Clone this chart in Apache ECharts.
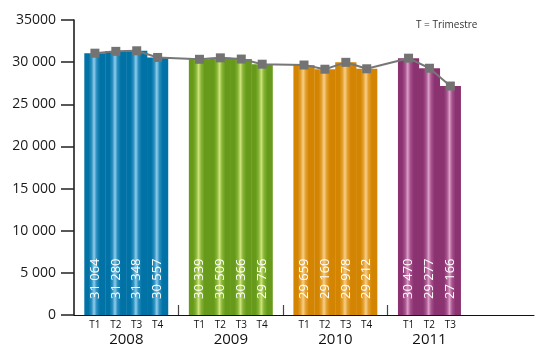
<!DOCTYPE html>
<html>
<head>
<meta charset="utf-8">
<script src="https://cdn.jsdelivr.net/npm/echarts@6/dist/echarts.min.js"></script>
<style>html,body{margin:0;padding:0;background:#fff}#c{width:540px;height:347px}</style>
</head>
<body>
<div id="c"></div>
<script>
var years = ['2008', '2009', '2010', '2011'];
var quarterNames = ['T1', 'T2', 'T3', 'T4'];
var v2008 = [31064, 31280, 31348, 30557];
var v2009 = [30339, 30509, 30366, 29756];
var v2010 = [29659, 29160, 29978, 29212];
var v2011 = [30470, 29277, 27166];
var yTickLabels = ['0', '5 000', '10 000', '15 000', '20 000', '25 000', '30 000', '35000'];
var legendNote = 'T = Trimestre';

var yearValues = [v2008, v2009, v2010, v2011];
var palette = [
  ['#0072a5', '#2a8fc0', '#8fcdea'],
  ['#679a1b', '#86b535', '#cfe37c'],
  ['#d38400', '#e3a030', '#f7cf88'],
  ['#8b3371', '#a6538e', '#dd9ec8']
];
function grad(c) {
  return new echarts.graphic.LinearGradient(0, 0, 1, 0, [
    {offset: 0, color: c[0]}, {offset: 0.2, color: c[0]},
    {offset: 0.34, color: c[1]}, {offset: 0.46, color: c[2]},
    {offset: 0.58, color: c[1]}, {offset: 0.74, color: c[0]},
    {offset: 1, color: c[0]}
  ]);
}

// Build category slots: leading blank, each year's quarters followed by a gap slot, trailing blanks
var cats = [''], barData = [null], lineData = [null], yearCats = [''], yearShift = {};
var gapIdx = [];
yearValues.forEach(function (vals, yi) {
  var start = cats.length;
  vals.forEach(function (v, qi) {
    cats.push(quarterNames[qi]);
    barData.push({value: v, itemStyle: {color: grad(palette[yi])}});
    lineData.push(v);
    yearCats.push('');
  });
  var center = start + (vals.length - 1) / 2;
  var ci = Math.floor(center);
  yearCats[ci] = years[yi];
  yearShift[ci] = (center !== ci);
  if (yi < yearValues.length - 1) {
    gapIdx.push(cats.length);
    cats.push(''); barData.push(null); lineData.push(null); yearCats.push('');
  }
});
while (cats.length < 23) { cats.push(''); barData.push(null); lineData.push(null); yearCats.push(''); }

function fmt(v) { return String(v).replace(/\B(?=(\d{3})+(?!\d))/g, ' '); }

var chart = echarts.init(document.getElementById('c'));
chart.setOption({
  animation: false,
  textStyle: {fontFamily: 'Open Sans'},
  title: {
    text: legendNote, left: 411, top: 15,
    textStyle: {fontSize: 10, fontWeight: 'normal', color: '#333', fontFamily: 'Open Sans'}
  },
  grid: {left: 74, right: 6, top: 20, bottom: 31, containLabel: false},
  xAxis: [{
    type: 'category', data: cats, boundaryGap: false,
    axisLine: {lineStyle: {color: '#111', width: 1}},
    axisTick: {show: true, inside: true, length: 10, alignWithLabel: true,
      interval: function (i) { return gapIdx.indexOf(i) >= 0; },
      lineStyle: {color: '#444', width: 1.2}},
    axisLabel: {interval: 0, margin: 5, fontSize: 10, color: '#111', fontFamily: 'Open Sans'},
    splitLine: {show: false}
  }, {
    type: 'category', data: yearCats, boundaryGap: false, position: 'bottom',
    axisLine: {show: false}, axisTick: {show: false}, splitLine: {show: false},
    axisLabel: {interval: 0, margin: 17, fontSize: 15, color: '#111', fontFamily: 'Open Sans',
      formatter: function (v, i) { return v ? (yearShift[i] ? '{s|' + v + '}' : '{n|' + v + '}') : ''; },
      rich: {s: {fontSize: 15, color: '#111', padding: [0, 0, 0, 21]}, n: {fontSize: 15, color: '#111'}}}
  }],
  yAxis: {
    type: 'value', min: 0, max: 35000, interval: 5000,
    axisLine: {show: true, lineStyle: {color: '#111', width: 1.5}},
    axisTick: {show: true, length: 13, lineStyle: {color: '#222', width: 1.5}},
    axisLabel: {margin: 18, fontSize: 14, color: '#1a1a1a', fontFamily: 'Open Sans',
      formatter: function (v) { return yTickLabels[Math.round(v / 5000)]; }},
    splitLine: {show: false}
  },
  series: [{
    type: 'bar', xAxisIndex: 0, data: barData, barWidth: 21.2,
    label: {show: true, position: 'insideBottom', rotate: 90, align: 'left', verticalAlign: 'middle',
      distance: 16, color: '#fff', fontSize: 13, fontFamily: 'Open Sans',
      formatter: function (p) { return fmt(p.value); }}
  }, {
    type: 'line', xAxisIndex: 0, data: lineData, connectNulls: true, z: 5,
    symbol: 'rect', symbolSize: 9,
    lineStyle: {color: '#777', width: 2},
    itemStyle: {color: '#737373'}
  }]
});
</script>
</body>
</html>
